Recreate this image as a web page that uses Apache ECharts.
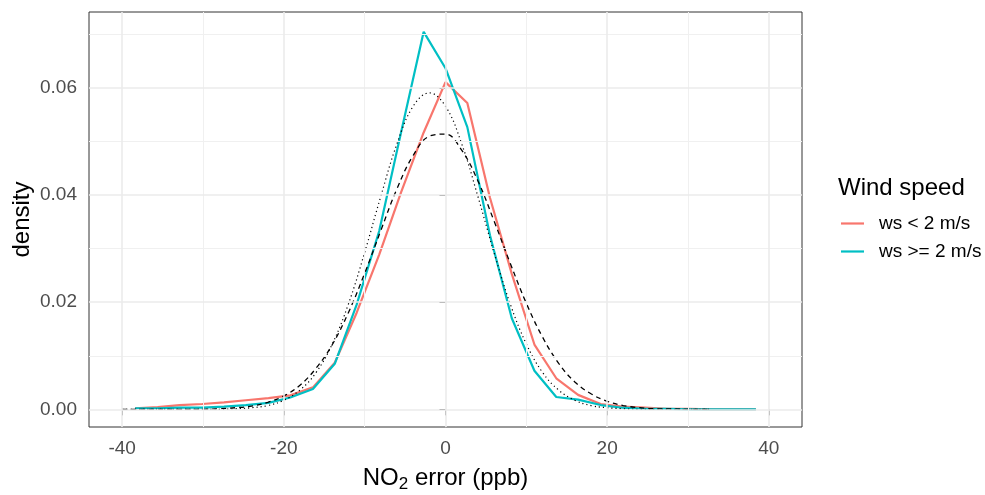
<!DOCTYPE html>
<html>
<head>
<meta charset="utf-8">
<script src="https://cdn.jsdelivr.net/npm/echarts@6/dist/echarts.min.js"></script>
<style>
html,body{margin:0;padding:0;background:#fff;}
#chart{width:985px;height:495px;}
</style>
</head>
<body>
<div id="chart"></div>
<script>
// ---- data ----
const binCenters = [-38.4, -35.6, -32.9, -30.1, -27.4, -24.7, -21.9, -19.2, -16.4, -13.7, -11.0, -8.2, -5.5, -2.7, 0.0, 2.7, 5.5, 8.2, 11.0, 13.7, 16.4, 19.2, 21.9, 24.7, 27.4, 30.1, 32.9, 35.6, 38.4];
const wsLow = [0.0002, 0.0004, 0.0008, 0.0010, 0.0013, 0.0017, 0.0021, 0.0026, 0.0041, 0.0087, 0.0180, 0.0289, 0.0405, 0.0517, 0.0611, 0.0572, 0.0395, 0.0253, 0.0121, 0.0058, 0.0027, 0.0010, 0.0005, 0.0003, 0.0001, 0.0001, 0.0000, 0.0000, 0.0000];
const wsHigh = [0.0002, 0.0002, 0.0003, 0.0003, 0.0005, 0.0008, 0.0012, 0.0022, 0.0038, 0.0085, 0.0195, 0.0333, 0.0517, 0.0705, 0.0637, 0.0527, 0.0325, 0.0170, 0.0072, 0.0023, 0.0018, 0.0008, 0.0003, 0.0001, 0.0001, 0.0000, 0.0000, 0.0000, 0.0000];

const refX = [-40, -38, -36, -34, -32, -30, -28, -26, -24, -22, -20, -18, -16, -14, -12, -10, -8, -6, -4, -2, 0, 2, 4, 6, 8, 10, 12, 14, 16, 18, 20, 22, 24, 26, 28, 30, 32, 32.7];
const dashedRef = [0.0000, 0.0000, 0.0000, 0.0000, 0.0000, 0.0000, 0.0001, 0.0003, 0.0006, 0.0013, 0.0025, 0.0045, 0.0077, 0.0121, 0.0181, 0.0254, 0.0334, 0.0412, 0.0474, 0.0510, 0.0514, 0.0484, 0.0427, 0.0352, 0.0273, 0.0198, 0.0135, 0.0086, 0.0051, 0.0029, 0.0015, 0.0007, 0.0003, 0.0001, 0.0001, 0.0000, 0.0000, 0.0000];
const dottedRef = [0.0000, 0.0000, 0.0000, 0.0000, 0.0000, 0.0000, 0.0000, 0.0001, 0.0003, 0.0007, 0.0017, 0.0036, 0.0069, 0.0122, 0.0197, 0.0293, 0.0398, 0.0496, 0.0566, 0.0591, 0.0566, 0.0496, 0.0398, 0.0293, 0.0197, 0.0122, 0.0069, 0.0036, 0.0017, 0.0007, 0.0003, 0.0001, 0.0000, 0.0000, 0.0000, 0.0000, 0.0000, 0.0000];

const xMajor = [-40, -20, 0, 20, 40];
const xMinor = [-30, -10, 10, 30];
const yMajor = [0, 0.02, 0.04, 0.06];
const yMinor = [0.01, 0.03, 0.05, 0.07];

const seriesNames = ['ws < 2 m/s', 'ws >= 2 m/s'];
const legendTitle = 'Wind speed';
const xTitle = ['NO', '2', ' error (ppb)'];
const yTitle = 'density';

// ---- chart ----
const FONT = 'Liberation Sans, Arial, sans-serif';
const zip = (xs, ys) => xs.map((x, i) => [x, ys[i]]);
const gridLines = (xs, ys, width, color) => ({
  type: 'line', data: [], silent: true, z: 1,
  markLine: {
    silent: true, symbol: ['none', 'none'], animation: false,
    label: { show: false },
    lineStyle: { color: color, width: width, type: 'solid' },
    emphasis: { disabled: true },
    data: xs.map(v => ({ xAxis: v })).concat(ys.map(v => ({ yAxis: v })))
  }
});

const chart = echarts.init(document.getElementById('chart'), null, { renderer: 'canvas' });
chart.setOption({
  animation: false,
  backgroundColor: '#ffffff',
  textStyle: { fontFamily: FONT },
  title: {
    text: legendTitle, left: 838, top: 176, padding: 0,
    textStyle: { fontFamily: FONT, fontSize: 24, fontWeight: 'normal', color: '#000000' }
  },
  legend: {
    data: seriesNames.map(n => ({ name: n, icon: 'rect' })),
    orient: 'vertical', left: 841, top: 214, padding: 0,
    itemWidth: 23, itemHeight: 2.2, itemGap: 9,
    textStyle: { fontFamily: FONT, fontSize: 19, color: '#000000', padding: [0, 0, 0, 10] }
  },
  grid: {
    left: 89, right: 183, top: 12, bottom: 68,
    show: true, borderColor: '#333333', borderWidth: 1, backgroundColor: 'transparent',
    outerBoundsMode: 'none', containLabel: false
  },
  xAxis: {
    type: 'value', min: -44.1, max: 44.1,
    name: '{a|' + xTitle[0] + '}{s|' + xTitle[1] + '}{a|' + xTitle[2] + '}',
    nameLocation: 'middle', nameGap: 39, nameMoveOverlap: false,
    nameTextStyle: {
      fontFamily: FONT, fontSize: 24, color: '#000000',
      rich: {
        a: { fontFamily: FONT, fontSize: 24, color: '#000000', lineHeight: 24, verticalAlign: 'top' },
        s: { fontFamily: FONT, fontSize: 17, color: '#000000', lineHeight: 17, padding: [10, 0, 0, 0], verticalAlign: 'top' }
      }
    },
    axisLine: { show: false },
    axisTick: { show: true, customValues: xMajor, length: 6, lineStyle: { color: '#333333', width: 1 } },
    axisLabel: { customValues: xMajor, margin: 12, fontFamily: FONT, fontSize: 19, color: '#4D4D4D' },
    splitLine: { show: false }
  },
  yAxis: {
    type: 'value', min: -0.0033, max: 0.0742,
    name: yTitle, nameLocation: 'middle', nameRotate: 90, nameGap: 55, nameMoveOverlap: false,
    nameTextStyle: { fontFamily: FONT, fontSize: 24, color: '#000000' },
    axisLine: { show: false },
    axisTick: { show: true, customValues: yMajor, length: 6, lineStyle: { color: '#333333', width: 1 } },
    axisLabel: { customValues: yMajor, margin: 12, fontFamily: FONT, fontSize: 19, color: '#4D4D4D',
      formatter: v => v.toFixed(2) },
    splitLine: { show: false }
  },
  series: [
    gridLines(xMinor, yMinor, 1, '#F0F0F0'),
    gridLines(xMajor, yMajor, 1.6, '#EBEBEB'),
    {
      name: seriesNames[0], type: 'line', data: zip(binCenters, wsLow),
      showSymbol: false, symbol: 'none', z: 3,
      lineStyle: { color: '#F8766D', width: 2.2 }, itemStyle: { color: '#F8766D' }
    },
    {
      name: seriesNames[1], type: 'line', data: zip(binCenters, wsHigh),
      showSymbol: false, symbol: 'none', z: 3,
      lineStyle: { color: '#00BFC4', width: 2.2 }, itemStyle: { color: '#00BFC4' }
    },
    {
      name: 'dotted', type: 'line', data: zip(refX, dottedRef), smooth: 0.4,
      showSymbol: false, symbol: 'none', z: 4,
      lineStyle: { color: '#000000', width: 1.2, type: [1.2, 3] }
    },
    {
      name: 'dashed', type: 'line', data: zip(refX, dashedRef), smooth: 0.4,
      showSymbol: false, symbol: 'none', z: 4,
      lineStyle: { color: '#000000', width: 1.3, type: [5, 4] }
    }
  ]
});
</script>
</body>
</html>
